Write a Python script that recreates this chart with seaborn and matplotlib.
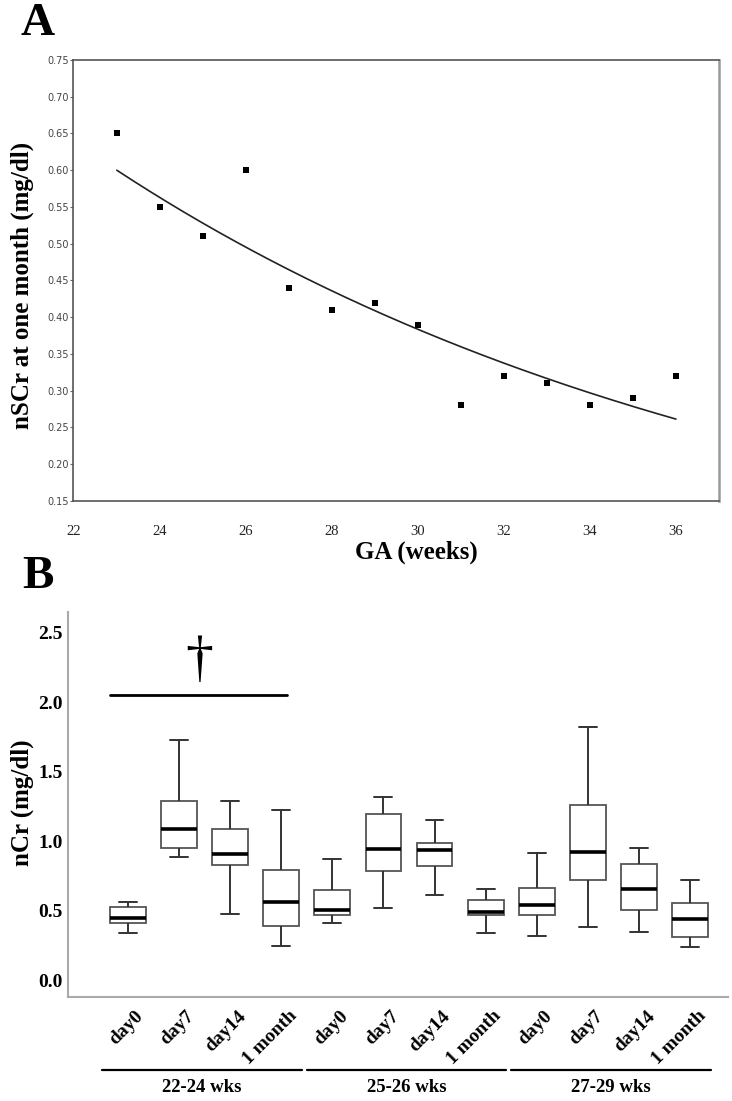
import numpy as np
import pandas as pd
import matplotlib
matplotlib.use("Agg")
import matplotlib.pyplot as plt
import seaborn as sns
from matplotlib.transforms import ScaledTranslation

# ---------------- DATA : PANEL A ----------------

ga_weeks = [23, 24, 25, 26, 27, 28, 29, 30, 31, 32, 33, 34, 35, 36]
nscr_month = [0.65, 0.55, 0.51, 0.60, 0.44, 0.41, 0.42, 0.39, 0.28, 0.32, 0.31, 0.28, 0.29, 0.32]
ga_ticks = [22, 24, 26, 28, 30, 32, 34, 36]
a_yticks = [0.15, 0.20, 0.25, 0.30, 0.35, 0.40, 0.45, 0.50, 0.55, 0.60, 0.65, 0.70, 0.75]

# ---------------- DATA : PANEL B ----------------

ga_groups = ["22-24 wks", "25-26 wks", "27-29 wks"]
time_points = ["day0", "day7", "day14", "1 month"]
whisker_low = [0.34, 0.89, 0.475, 0.25, 0.41, 0.52, 0.615, 0.34, 0.32, 0.38, 0.35, 0.24]
q1 = [0.41, 0.955, 0.83, 0.39, 0.47, 0.785, 0.82, 0.47, 0.47, 0.725, 0.505, 0.31]
median = [0.45, 1.09, 0.905, 0.56, 0.505, 0.945, 0.935, 0.49, 0.545, 0.925, 0.66, 0.44]
q3 = [0.53, 1.29, 1.09, 0.79, 0.65, 1.195, 0.985, 0.575, 0.665, 1.26, 0.84, 0.555]
whisker_high = [0.56, 1.73, 1.29, 1.225, 0.875, 1.315, 1.15, 0.655, 0.915, 1.82, 0.955, 0.725]
b_yticks = [0.0, 0.5, 1.0, 1.5, 2.0, 2.5]
sig_y = 2.05

# ---------------- STYLE ----------------

sns.set_theme(style="white")
plt.rcParams["font.family"] = ["Liberation Serif", "DejaVu Serif"]
plt.rcParams["text.color"] = "black"
plt.rcParams["xtick.color"] = "black"
plt.rcParams["ytick.color"] = "black"
serif = "Liberation Serif"

fig = plt.figure(figsize=(7.32, 11.01), dpi=100)

# ---------------- PANEL A ----------------

axA = fig.add_axes([0.0997, 0.5450, 0.8825, 0.4005])

fit = np.polyfit(ga_weeks, np.log(nscr_month), 1)
xs = np.linspace(min(ga_weeks), max(ga_weeks), 200)
curve = pd.DataFrame({"GA": xs, "fit": np.exp(np.polyval(fit, xs))})

sns.lineplot(data=curve, x="GA", y="fit", color="#222222", linewidth=1.2, ax=axA)
sns.scatterplot(x=ga_weeks, y=nscr_month, marker="s", s=22, color="black",
                edgecolor="black", linewidth=0, ax=axA)

axA.set_xlim(21.98, 37.0)
axA.set_ylim(0.15, 0.75)
axA.set_xticks(ga_ticks)
axA.set_xticklabels([str(t) for t in ga_ticks], fontsize=10.5, family=serif, color="#222222")
axA.set_yticks(a_yticks)
axA.set_yticklabels([f"{v:.2f}" for v in a_yticks], fontsize=7, family="DejaVu Sans", color="#444444")
axA.tick_params(axis="x", length=0, pad=17)
axA.tick_params(axis="y", length=2, width=0.8, color="#666666", pad=1, left=True)
axA.set_xlabel("")
axA.set_ylabel("")
for side in ["top", "bottom", "left"]:
    axA.spines[side].set_color("#555555")
    axA.spines[side].set_linewidth(1.2)
axA.spines["right"].set_color("#999999")
axA.spines["right"].set_linewidth(1.8)

fig.text(416 / 732, 1 - 552 / 1101, "GA (weeks)", fontsize=18, fontweight="bold",
         family=serif, ha="center", va="center")
fig.text(22 / 732, 1 - 285 / 1101, "nSCr at one month (mg/dl)", fontsize=18,
         fontweight="bold", family=serif, rotation=90, ha="center", va="center")
fig.text(38 / 732, 1 - 24 / 1101, "A", fontsize=34, fontweight="bold", family=serif,
         ha="center", va="center")

# ---------------- PANEL B ----------------

box_ids = [f"{g}|{t}" for g in ga_groups for t in time_points]
rows = []
for i, bid in enumerate(box_ids):
    for v in [whisker_low[i], q1[i], median[i], q3[i], whisker_high[i]]:
        rows.append({"box": bid, "nCr": v})
box_df = pd.DataFrame(rows)

axB = fig.add_axes([0.0929, 0.0945, 0.9016, 0.3497])

sns.boxplot(data=box_df, x="box", y="nCr", order=box_ids, whis=(0, 100), width=0.7,
            color="white", linecolor="#555555", linewidth=1.3,
            medianprops={"color": "black", "linewidth": 2.6},
            whiskerprops={"color": "#333333", "linewidth": 1.4},
            capprops={"color": "#333333", "linewidth": 1.4},
            ax=axB)

axB.set_xlim(-1.17, 11.74)
axB.set_ylim(-0.12, 2.65)
axB.set_yticks(b_yticks)
axB.set_yticklabels([f"{v:.1f}" for v in b_yticks], fontsize=14, fontweight="bold", family=serif)
axB.set_xticks(range(len(box_ids)))
axB.set_xticklabels([t for g in ga_groups for t in time_points], rotation=45, ha="right",
                    va="center", rotation_mode="anchor", fontsize=14, fontweight="bold",
                    family=serif)
axB.tick_params(axis="x", length=0, pad=12)
axB.tick_params(axis="y", length=0, pad=4)
for lab in axB.get_xticklabels():
    lab.set_transform(lab.get_transform() + ScaledTranslation(13 / 100, 0, fig.dpi_scale_trans))
axB.set_xlabel("")
axB.set_ylabel("")
sns.despine(ax=axB)
for side in ["left", "bottom"]:
    axB.spines[side].set_color("#aaaaaa")
    axB.spines[side].set_linewidth(1.5)

# significance bar and dagger
axB.plot([-0.35, 3.11], [sig_y, sig_y], color="black", linewidth=2.0)
axB.text(1.39, 2.30, "\u2020", fontsize=40, family=serif, ha="center", va="center")

# group brackets under the labels
xform = axB.get_xaxis_transform()
for gi, g in enumerate(ga_groups):
    start = gi * len(time_points) - 0.5
    end = gi * len(time_points) + 3.4
    axB.plot([start, end], [-0.19, -0.19], color="black", linewidth=1.6,
             transform=xform, clip_on=False)
    axB.text((start + end) / 2, -0.236, g, transform=xform, ha="center", va="center",
             fontsize=13.5, fontweight="bold", family=serif)

fig.text(22 / 732, 1 - 803 / 1101, "nCr (mg/dl)", fontsize=18, fontweight="bold",
         family=serif, rotation=90, ha="center", va="center")
fig.text(38 / 732, 1 - 577 / 1101, "B", fontsize=34, fontweight="bold", family=serif,
         ha="center", va="center")

fig.savefig("out.png", dpi=100)
